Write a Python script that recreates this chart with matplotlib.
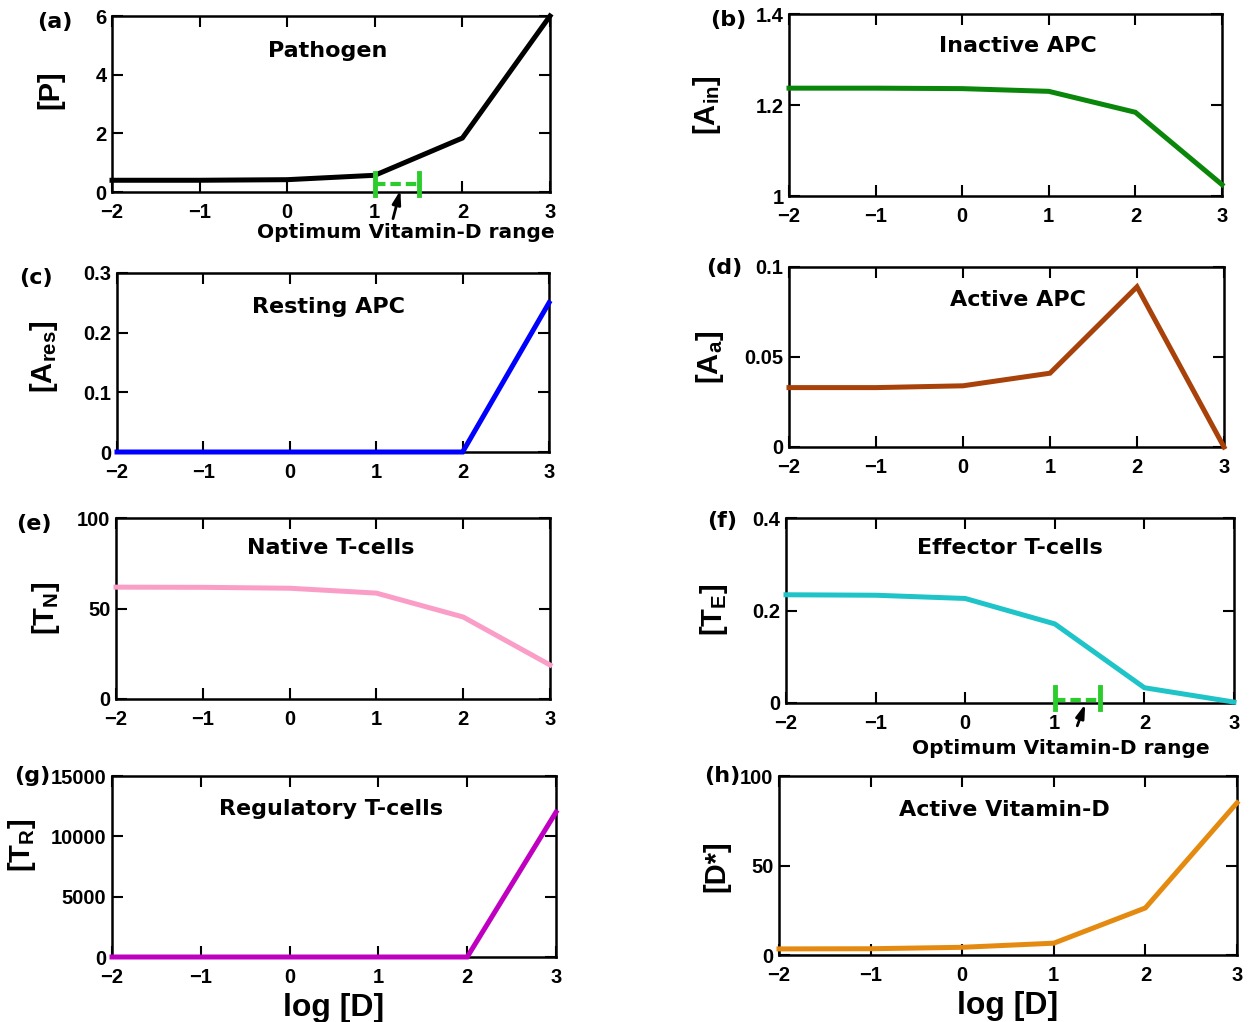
import matplotlib
matplotlib.use("Agg")
import matplotlib.pyplot as plt

# Datos
log_d = [-2, -1, 0, 1, 2, 3]
pathogen = [0.40, 0.40, 0.42, 0.57, 1.84, 6.0]
apc_inactive = [1.237, 1.237, 1.236, 1.230, 1.184, 1.025]
apc_resting = [0.0, 0.0, 0.0, 0.0, 0.0, 0.25]
apc_active = [0.033, 0.033, 0.034, 0.041, 0.089, 0.0]
t_native = [61.8, 61.7, 61.2, 58.5, 45.3, 18.8]
t_effector = [0.234, 0.233, 0.226, 0.171, 0.033, 0.002]
t_regulatory = [0.0, 0.0, 0.0, 0.0, 0.0, 12000.0]
vitd_active = [3.4, 3.5, 4.3, 6.6, 26.3, 85.0]
opt_range = [1.0, 1.5]

W, H = 1252, 1022
fig = plt.figure(figsize=(W / 100, H / 100), dpi=100)

plt.rcParams['mathtext.fontset'] = 'custom'
for k in ['rm', 'it', 'bf']:
    plt.rcParams['mathtext.' + k] = 'Liberation Sans:bold'

FUENTE = ['Liberation Sans', 'DejaVu Sans']


def px_axes(l, t, r, b):
    return fig.add_axes([l / W, 1 - b / H, (r - l) / W, (b - t) / H])


def ftext(x, y, s, **kw):
    fig.text(x / W, 1 - y / H, s, **kw)


# (letra, caja en px, datos, color, ylim, yticks, titulo, (x,y) titulo, ylabel, (x,y) ylabel, (x,y) letra)
paneles = [
    ('(a)', (112, 16, 550, 192), pathogen, 'black', (0, 6), [0, 2, 4, 6], 'Pathogen', (328, 51),
     '[P]', (50, 90), (55, 22)),
    ('(b)', (789, 14, 1222, 196), apc_inactive, '#0a870a', (1, 1.4), [1, 1.2, 1.4], 'Inactive APC', (1018, 46),
     r'$\mathrm{[A_{in}]}$', (707, 105), (728, 20)),
    ('(c)', (117, 273, 549, 452), apc_resting, '#0000ff', (0, 0.3), [0, 0.1, 0.2, 0.3], 'Resting APC', (328, 307),
     r'$\mathrm{[A_{res}]}$', (44, 357), (36, 278)),
    ('(d)', (789, 267, 1224, 447), apc_active, '#a8420a', (0, 0.1), [0, 0.05, 0.1], 'Active APC', (1018, 300),
     r'$\mathrm{[A_{a}]}$', (710, 357), (724, 268)),
    ('(e)', (116, 518, 550, 699), t_native, '#fa9ec8', (0, 100), [0, 50, 100], 'Native T-cells', (331, 548),
     r'$\mathrm{[T_{N}]}$', (46, 608), (34, 524)),
    ('(f)', (786, 518, 1234, 703), t_effector, '#1fc4c8', (0, 0.4), [0, 0.2, 0.4], 'Effector T-cells', (1010, 548),
     r'$\mathrm{[T_{E}]}$', (714, 610), (722, 521)),
    ('(g)', (112, 776, 556, 957), t_regulatory, '#c000c0', (0, 15000), [0, 5000, 10000, 15000],
     'Regulatory T-cells', (331, 809), r'$\mathrm{[T_{R}]}$', (22, 845), (32, 776)),
    ('(h)', (779, 776, 1237, 955), vitd_active, '#e58a10', (0, 100), [0, 50, 100], 'Active Vitamin-D', (1004, 810),
     '[D*]', (716, 866), (722, 776)),
]

axes = {}
for letra, caja, datos, color, ylim, yticks, titulo, tpos, ylab, ypos, lpos in paneles:
    ax = px_axes(*caja)
    axes[letra] = ax
    ax.plot(log_d, datos, color=color, lw=3.6, solid_joinstyle='miter', clip_on=False, zorder=3)
    ax.set_xlim(-2, 3)
    ax.set_ylim(*ylim)
    ax.set_xticks(log_d)
    ax.set_yticks(yticks)
    ax.set_yticklabels([('%g' % v) for v in yticks])
    ax.tick_params(direction='in', length=8, width=1.5, top=True, right=True)
    ax.tick_params(axis='x', pad=8)
    ax.tick_params(axis='y', pad=4)
    for lab in ax.get_xticklabels() + ax.get_yticklabels():
        lab.set_family(FUENTE)
        lab.set_fontweight('bold')
        lab.set_fontsize(14.5)
    for sp in ax.spines.values():
        sp.set_linewidth(1.8)
    ftext(tpos[0], tpos[1], titulo, ha='center', va='center', fontsize=16, fontweight='bold',
          family='DejaVu Sans')
    ftext(ypos[0], ypos[1], ylab, ha='center', va='center', rotation=90, fontsize=21,
          fontweight='bold', family=FUENTE)
    ftext(lpos[0], lpos[1], letra, ha='center', va='center', fontsize=16, fontweight='bold',
          family='DejaVu Sans')

# Rango optimo de vitamina D
verde = '#2ccc2c'
for letra, ybar, yc, tip, tail, txt in [('(a)', 0.27, (-0.1, 0.65), (1.3, 0.15), (1.2, -1.0), (406, 233)),
                                        ('(f)', 0.006, (-0.013, 0.035), (1.35, 0.003), (1.24, -0.055), (1061, 748))]:
    ax = axes[letra]
    ax.plot(opt_range, [ybar, ybar], color=verde, lw=3, ls=(0, (2.5, 1.2)), clip_on=False, zorder=4)
    for xv in opt_range:
        ax.plot([xv, xv], list(yc), color=verde, lw=3.5, clip_on=False, zorder=4)
    ax.annotate('', xy=tip, xytext=tail,
                arrowprops=dict(arrowstyle='-|>,head_length=0.8,head_width=0.25', color='black', lw=2),
                annotation_clip=False, zorder=5)
    ftext(txt[0], txt[1], 'Optimum Vitamin-D range', ha='center', va='center', fontsize=14.5,
          fontweight='bold', family='DejaVu Sans')

axes['(g)'].set_xlabel('log [D]', fontsize=23, fontweight='bold', family=FUENTE, labelpad=4)
axes['(h)'].set_xlabel('log [D]', fontsize=23, fontweight='bold', family=FUENTE, labelpad=4)

fig.savefig('out.png', dpi=100)
